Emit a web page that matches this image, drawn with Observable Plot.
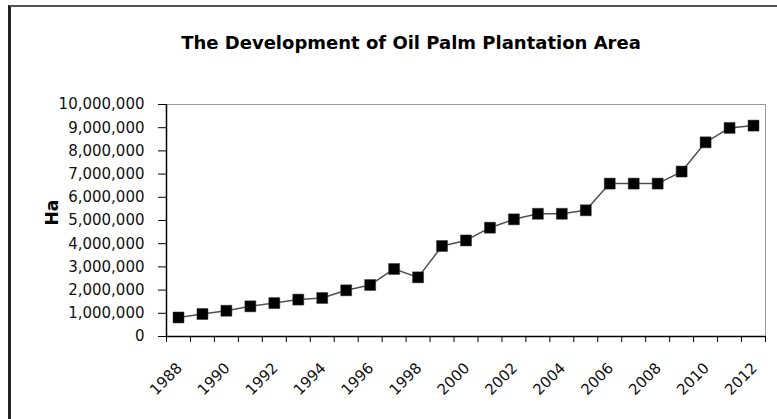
<!DOCTYPE html>
<html><head><meta charset="utf-8">
<script src="https://cdn.jsdelivr.net/npm/d3@7"></script>
<script src="https://cdn.jsdelivr.net/npm/@observablehq/plot@0.6"></script>
<style>
html,body{margin:0;padding:0;background:#fff;}
#wrap{position:relative;width:777px;height:419px;overflow:hidden;background:#fff;}
#frame{position:absolute;left:8px;top:5px;width:900px;height:600px;border-left:3px solid #222;border-top:2px solid #555;box-sizing:border-box;}
#title{position:absolute;left:0;width:822px;top:32px;text-align:center;font:bold 18px "DejaVu Sans";color:#000;}
#chart{position:absolute;left:0;top:0;}
</style></head><body>
<div id="wrap"><div id="frame"></div><div id="chart"></div><div id="title">The Development of Oil Palm Plantation Area</div></div>
<script>
const years = [1988,1989,1990,1991,1992,1993,1994,1995,1996,1997,1998,1999,2000,2001,2002,2003,2004,2005,2006,2007,2008,2009,2010,2011,2012];
const area = [820000,970000,1110000,1300000,1440000,1590000,1660000,1990000,2220000,2910000,2550000,3900000,4140000,4690000,5050000,5290000,5290000,5440000,6590000,6590000,6590000,7110000,8370000,8990000,9090000];
const yTicks = [0,1000000,2000000,3000000,4000000,5000000,6000000,7000000,8000000,9000000,10000000];
const xLabelYears = [1988,1990,1992,1994,1996,1998,2000,2002,2004,2006,2008,2010,2012];
const yLabel = "Ha";

const data = years.map((year, i) => ({year, area: area[i]}));
const boundaries = d3.range(years[0] - 0.5, years[years.length - 1] + 1, 1);

const chart = Plot.plot({
  width: 777, height: 419,
  marginLeft: 166, marginRight: 12, marginTop: 104, marginBottom: 83,
  style: {fontFamily: "DejaVu Sans", fontSize: "15px", color: "#111", background: "transparent", overflow: "visible"},
  x: {type: "linear", domain: [years[0] - 0.5, years[years.length - 1] + 0.5]},
  y: {domain: [0, 10000000]},
  marks: [
    Plot.frame({stroke: "#9a9a9a"}),
    Plot.axisY({ticks: yTicks, tickSize: 8, tickPadding: 14, tickFormat: d3.format(","), label: null, stroke: "#000", fill: "#111", fontSize: 15}),
    Plot.axisX({ticks: boundaries, tickSize: 6, tickFormat: () => "", label: null, stroke: "#000"}),
    Plot.ruleX([years[0] - 0.5], {stroke: "#000", strokeWidth: 1.5}),
    Plot.ruleY([0], {stroke: "#000", strokeWidth: 1.5}),
    Plot.text(xLabelYears, {x: d => d, text: d => String(d), frameAnchor: "bottom", dy: 29, dx: 1, rotate: -45, textAnchor: "end", lineAnchor: "middle", fontSize: 15, fill: "#111"}),
    Plot.text([yLabel], {frameAnchor: "left", dx: -114, dy: 5, rotate: -90, fontWeight: "bold", fontSize: 17, fill: "#000"}),
    Plot.line(data, {x: "year", y: "area", stroke: "#505050", strokeWidth: 1.5}),
    Plot.dot(data, {x: "year", y: "area", symbol: "square", r: 6.2, fill: "#000", stroke: "#333", strokeWidth: 0.5})
  ]
});
document.getElementById("chart").appendChild(chart);
</script>
</body></html>
